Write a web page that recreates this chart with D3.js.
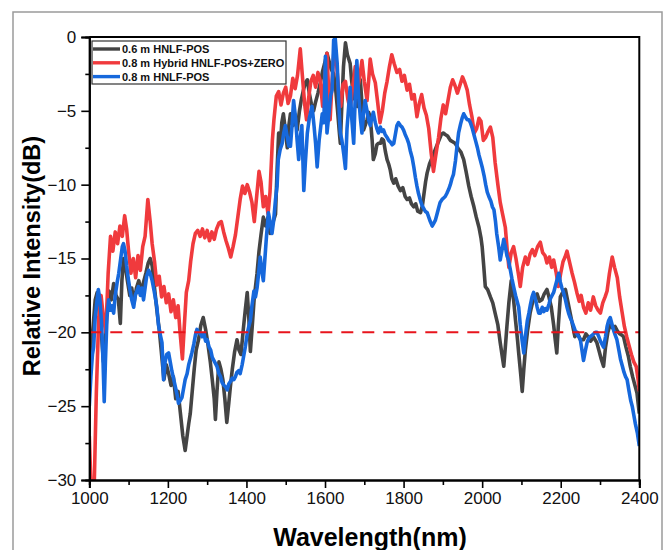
<!DOCTYPE html>
<html>
<head>
<meta charset="utf-8">
<script src="https://cdn.jsdelivr.net/npm/d3@7"></script>
<style>
  body { margin: 0; background: #fff; }
  svg { display: block; font-family: "Liberation Sans", Arial, sans-serif; }
</style>
</head>
<body>
<div id="chart"></div>
<script>
// series names (legend order)
const seriesNames = ["0.6 m HNLF-POS", "0.8 m Hybrid HNLF-POS+ZERO", "0.8 m HNLF-POS"];

// [wavelength nm, relative intensity dB]
const black06 = [[1000,-24],[1005,-21],[1010,-19.5],[1015,-17.8],[1020,-17.3],[1025,-18.5],[1030,-19.8],[1036,-22],[1040,-21],[1045,-18.5],[1050,-17.2],[1056,-17.8],[1062,-16.7],[1068,-17.5],[1074,-17.8],[1079,-19.4],[1083,-16.5],[1087,-15],[1092,-15.6],[1097,-16.5],[1103,-17.5],[1108,-17],[1114,-18],[1120,-17],[1126,-16.5],[1132,-17.3],[1138,-16.6],[1144,-16],[1150,-15.3],[1155,-15],[1160,-15.5],[1166,-17],[1172,-18.5],[1178,-19.8],[1184,-21.5],[1190,-23.2],[1196,-22.2],[1202,-22.8],[1208,-23.6],[1214,-23],[1220,-24.5],[1226,-24],[1232,-25.5],[1238,-27],[1244,-28],[1248,-27.2],[1253,-26.2],[1257,-25.5],[1262,-24],[1267,-22.5],[1272,-21.2],[1278,-20.5],[1284,-19.5],[1290,-19],[1296,-19.8],[1302,-20.8],[1308,-22],[1313,-23.2],[1318,-24.5],[1321,-25.9],[1325,-24],[1330,-22],[1335,-22.5],[1340,-23.2],[1345,-24.5],[1350,-26.1],[1355,-24.8],[1359,-23.7],[1364,-22.5],[1370,-21.3],[1376,-20.5],[1381,-21.2],[1386,-21.5],[1392,-19.8],[1397,-18.5],[1402,-17.3],[1406,-19],[1410,-21.3],[1415,-19.5],[1420,-17.6],[1427,-16],[1432,-14.5],[1437,-13.4],[1443,-12.2],[1449,-12.8],[1455,-12.2],[1460,-13.3],[1468,-12.5],[1474,-12],[1478,-9],[1482,-6.5],[1486,-7.5],[1490,-5.8],[1494,-5.2],[1499,-6.3],[1504,-7.5],[1508,-6],[1512,-5.2],[1518,-6],[1523,-5.2],[1529,-6.3],[1535,-5],[1540,-4.2],[1545,-3.6],[1550,-3.1],[1555,-2.9],[1560,-3.8],[1565,-4.5],[1571,-5],[1576,-4.4],[1582,-3.8],[1588,-3.1],[1594,-2.3],[1599,-1.8],[1605,-1.1],[1610,-1.6],[1616,-2.2],[1622,-2.5],[1627,-3.5],[1632,-5],[1636,-6.3],[1639,-7.2],[1643,-4.5],[1647,-2],[1652,-0.4],[1657,-1.2],[1664,-1.8],[1668,-3],[1673,-4.1],[1678,-4.3],[1682,-4.7],[1686,-3.5],[1690,-2.9],[1694,-4.5],[1698,-6.3],[1702,-6],[1707,-5.6],[1711,-5.1],[1715,-5.4],[1720,-7],[1723,-8.3],[1728,-7.9],[1732,-7.3],[1736,-7.2],[1741,-7.2],[1745,-6.9],[1749,-7],[1754,-7.8],[1758,-8.3],[1762,-8.6],[1766,-9],[1770,-9.6],[1775,-9.9],[1780,-9.6],[1786,-10.1],[1792,-10.4],[1798,-10.2],[1804,-10.8],[1809,-11],[1815,-10.9],[1820,-11.3],[1826,-11.5],[1831,-11.3],[1836,-11.8],[1843,-11.9],[1848,-11.4],[1852,-10.6],[1856,-9.8],[1860,-9.2],[1866,-8.6],[1872,-8.2],[1878,-7.8],[1884,-7.4],[1890,-7],[1896,-6.6],[1901,-6.5],[1906,-6.6],[1912,-6.7],[1919,-7],[1925,-7.1],[1931,-7.2],[1936,-7.4],[1940,-7.6],[1946,-7.8],[1953,-8.3],[1959,-9.1],[1966,-10.1],[1972,-10.8],[1979,-11.5],[1985,-12.2],[1992,-12.9],[1997,-13.6],[2000,-14.2],[2004,-15.5],[2008,-16.9],[2014,-17.1],[2021,-17.6],[2027,-18],[2033,-18.7],[2040,-19.5],[2046,-20.7],[2051,-21.6],[2055,-22.3],[2059,-21],[2063,-19.6],[2068,-18],[2074,-16.5],[2080,-17.8],[2085,-19.2],[2090,-20.5],[2093,-21.4],[2098,-22.8],[2102,-24],[2106,-22.5],[2110,-21.2],[2116,-19.8],[2122,-18.7],[2128,-18],[2134,-17.6],[2140,-17.4],[2146,-17.9],[2152,-17.8],[2158,-17.4],[2165,-17.1],[2170,-17.6],[2176,-18.3],[2182,-19.5],[2186,-20.5],[2190,-21.4],[2194,-19.5],[2199,-17.6],[2205,-17.3],[2212,-17.1],[2218,-17.9],[2224,-18.7],[2230,-19.5],[2236,-20.3],[2242,-20],[2250,-20.5],[2258,-20.5],[2264,-20.1],[2270,-20.3],[2276,-20.6],[2283,-20.3],[2292,-20.7],[2298,-21.3],[2303,-21.8],[2309,-22.3],[2314,-21],[2320,-20],[2326,-19.4],[2332,-19.7],[2338,-19.6],[2344,-19.9],[2350,-20.1],[2356,-20.2],[2360,-20.3],[2366,-21],[2372,-21.6],[2377,-22.3],[2383,-23],[2389,-23.6],[2394,-24.1],[2400,-25.5]];

const redHybrid = [[1000,-27],[1005,-31],[1012,-31],[1018,-24],[1024,-19],[1030,-17.5],[1036,-19],[1042,-20],[1048,-16],[1054,-13.5],[1060,-14.5],[1066,-13.2],[1072,-14],[1078,-12.8],[1084,-13.5],[1090,-12.1],[1095,-13],[1100,-14.5],[1106,-16],[1112,-15],[1118,-16.3],[1124,-14.8],[1130,-15.8],[1136,-14.2],[1142,-13.5],[1149,-11],[1155,-12.5],[1160,-14],[1166,-15.2],[1172,-16.8],[1178,-16.2],[1184,-17.6],[1190,-16.9],[1196,-18],[1202,-17.4],[1208,-18.6],[1214,-17.8],[1220,-19],[1226,-18.2],[1231,-20],[1237,-21.8],[1242,-19.5],[1247,-17.3],[1253,-16.5],[1258,-15.2],[1264,-14],[1270,-13.3],[1276,-13.1],[1282,-13.5],[1288,-13],[1294,-13.6],[1300,-13.1],[1306,-13.8],[1312,-13.2],[1318,-13.7],[1324,-13],[1330,-12.6],[1336,-12.5],[1342,-13.2],[1348,-13.8],[1354,-14.3],[1360,-14.9],[1366,-14.2],[1372,-13.4],[1378,-12.2],[1384,-11],[1390,-10.1],[1396,-10.6],[1402,-10],[1408,-10.5],[1414,-11.2],[1420,-12.5],[1426,-10.8],[1432,-9.1],[1437,-9.8],[1443,-11.5],[1449,-10.8],[1455,-12],[1460,-10.5],[1466,-7],[1470,-5.6],[1476,-4],[1482,-3.7],[1488,-4.6],[1494,-3.8],[1500,-3.4],[1506,-4.5],[1512,-4],[1518,-2.8],[1524,-3.5],[1530,-2.6],[1537,-0.8],[1542,-2.5],[1548,-4.5],[1553,-5.6],[1558,-4.2],[1564,-3],[1570,-2.6],[1576,-3.4],[1582,-2.4],[1588,-3],[1594,-4.7],[1600,-2.5],[1605,-1.1],[1609,-3.5],[1613,-5.6],[1618,-3],[1624,-0.4],[1630,-2],[1635,-3.8],[1640,-4.7],[1646,-3.2],[1652,-3],[1658,-4.2],[1664,-4.9],[1670,-3.5],[1677,-2],[1682,-3.6],[1688,-2.8],[1694,-1.6],[1700,-3],[1707,-4.3],[1711,-3],[1715,-1.5],[1721,-2.5],[1728,-3.1],[1733,-4.2],[1740,-5.8],[1746,-5],[1752,-3.8],[1758,-3],[1764,-2],[1770,-1.2],[1776,-1.8],[1783,-2.4],[1790,-2.2],[1796,-3],[1802,-2.6],[1809,-3.6],[1815,-3.2],[1821,-4.2],[1827,-3.9],[1834,-5.4],[1840,-4.5],[1846,-3.9],[1852,-4.8],[1858,-5.3],[1864,-6.2],[1870,-7.8],[1876,-9.1],[1882,-8],[1889,-6.8],[1895,-5.5],[1901,-4.6],[1907,-5.2],[1913,-4.3],[1919,-3.4],[1925,-2.9],[1931,-3.3],[1937,-3.8],[1943,-3.3],[1950,-2.7],[1956,-3.1],[1962,-3.6],[1968,-4.6],[1974,-5.4],[1980,-6.5],[1986,-6.2],[1992,-5.5],[1997,-5.7],[2003,-7],[2009,-6.8],[2015,-6.4],[2021,-6.1],[2027,-6.8],[2033,-8.5],[2040,-10],[2046,-11.2],[2052,-12],[2059,-12.9],[2064,-14.5],[2068,-15.6],[2074,-14.6],[2080,-14.2],[2086,-15],[2092,-16],[2097,-16.9],[2103,-15.6],[2110,-14.9],[2116,-15.4],[2122,-14.7],[2128,-14.4],[2134,-14.8],[2141,-14.2],[2148,-13.9],[2154,-14.6],[2160,-14.8],[2165,-15.3],[2171,-14.9],[2177,-15.6],[2182,-15.1],[2188,-15.9],[2194,-16.9],[2200,-16],[2206,-15.2],[2211,-14.9],[2216,-14.5],[2222,-15.2],[2229,-16],[2235,-16.6],[2241,-17.3],[2247,-17.9],[2252,-17.5],[2258,-18.3],[2264,-18.7],[2270,-18],[2276,-18.5],[2283,-17.6],[2289,-18.2],[2295,-18.5],[2301,-18.7],[2307,-18],[2313,-17.6],[2318,-17.2],[2324,-16],[2331,-14.9],[2337,-15.6],[2344,-16.3],[2350,-17.6],[2356,-18.6],[2362,-19.6],[2368,-20.3],[2374,-20.9],[2380,-21.5],[2386,-22],[2392,-22.3],[2397,-23.2],[2400,-24]];

const blue08 = [[1000,-25],[1004,-23],[1008,-21.5],[1011,-21],[1015,-19],[1019,-18],[1023,-17.1],[1027,-17.8],[1031,-19.2],[1035,-22],[1038,-24.7],[1041,-22],[1045,-19],[1049,-17.8],[1054,-18.5],[1058,-18.2],[1062,-18.7],[1066,-17.5],[1071,-16.6],[1075,-16],[1080,-15],[1084,-14.2],[1087,-14],[1091,-14.5],[1095,-15.5],[1100,-16.5],[1104,-17.2],[1108,-17.8],[1113,-18.3],[1117,-17.5],[1121,-17.2],[1125,-16.9],[1130,-17.5],[1134,-17],[1138,-17.8],[1142,-17],[1146,-16.2],[1151,-15.8],[1155,-16],[1160,-16.5],[1165,-17.2],[1169,-17.8],[1172,-18.3],[1176,-19.5],[1181,-20.2],[1185,-20.7],[1189,-23.2],[1193,-22],[1197,-21.5],[1202,-21.4],[1206,-22],[1210,-22.6],[1215,-23.2],[1220,-23.8],[1224,-24.3],[1227,-24.8],[1232,-24.6],[1236,-24.4],[1240,-23.8],[1244,-23.2],[1249,-22.8],[1253,-22.2],[1257,-21.8],[1261,-21.4],[1266,-20.8],[1270,-20.2],[1274,-19.8],[1278,-20],[1283,-20.1],[1287,-20.3],[1292,-20.1],[1296,-20.6],[1300,-20.5],[1305,-21],[1309,-21.2],[1313,-21.7],[1317,-21.9],[1321,-22.1],[1325,-22.3],[1330,-22.8],[1334,-23],[1338,-23.4],[1343,-23.6],[1347,-23.7],[1351,-23.9],[1355,-23.5],[1360,-23.3],[1364,-23.1],[1368,-23.2],[1372,-23],[1376,-22.7],[1380,-22.6],[1384,-22.8],[1389,-22.2],[1393,-21.6],[1397,-21],[1402,-20.1],[1406,-19.6],[1410,-19.2],[1414,-18.2],[1419,-17.2],[1423,-17.6],[1427,-17],[1431,-16],[1435,-14.9],[1439,-15.8],[1443,-16.5],[1447,-15],[1451,-13.5],[1456,-11.9],[1460,-12.5],[1465,-13.3],[1469,-12.5],[1474,-11],[1478,-10.1],[1481,-8.3],[1486,-7.6],[1491,-7.2],[1495,-6.5],[1499,-6],[1504,-6.8],[1508,-7.4],[1512,-7.4],[1516,-6],[1520,-4.3],[1525,-5.5],[1529,-7],[1533,-8.3],[1537,-6.8],[1541,-6],[1546,-10.4],[1550,-8.5],[1555,-6.5],[1560,-5.5],[1567,-4.7],[1572,-6],[1576,-7.2],[1580,-8.8],[1585,-7],[1589,-6.1],[1593,-5.2],[1597,-5.8],[1601,-1.3],[1605,-6.5],[1610,-5.2],[1614,-4],[1618,-3.6],[1622,-0.2],[1626,-0.1],[1631,-1.8],[1635,-4.5],[1639,-6.5],[1643,-7],[1648,-8],[1652,-8.9],[1656,-6.2],[1660,-4.8],[1664,-3.4],[1668,-5.5],[1673,-7.2],[1677,-4],[1681,-1.6],[1685,-3.8],[1690,-5.5],[1694,-6.5],[1698,-5.2],[1702,-4.3],[1707,-5],[1711,-5.6],[1715,-6],[1719,-5.5],[1723,-5.1],[1728,-5.8],[1732,-6.2],[1736,-6.5],[1741,-6.1],[1745,-6.4],[1749,-6.3],[1753,-6.6],[1758,-6.8],[1762,-7],[1766,-7.1],[1771,-7.3],[1775,-7.2],[1779,-6.6],[1783,-6],[1787,-5.8],[1792,-6],[1796,-6.1],[1800,-6.3],[1804,-6.6],[1809,-6.9],[1813,-7.2],[1817,-7.7],[1822,-8.2],[1826,-8.8],[1830,-9.5],[1834,-10.1],[1838,-10.6],[1843,-11.1],[1847,-11.4],[1851,-11.6],[1855,-11.8],[1860,-11.9],[1864,-12.2],[1868,-12.5],[1873,-12.8],[1877,-12.6],[1881,-12.4],[1885,-12],[1889,-11.6],[1893,-11.2],[1898,-11],[1902,-10.9],[1906,-10.8],[1910,-10.6],[1915,-10.3],[1919,-10],[1923,-9.6],[1927,-9.3],[1932,-8.4],[1936,-7.4],[1940,-6.5],[1945,-5.9],[1949,-5.5],[1953,-5.2],[1957,-5.4],[1962,-5.6],[1966,-5.6],[1970,-5.8],[1975,-6.2],[1979,-6.6],[1983,-7],[1988,-7.5],[1992,-8],[1996,-8.4],[2000,-8.8],[2005,-9.4],[2009,-10],[2013,-10.5],[2017,-10.8],[2022,-11.1],[2026,-11.5],[2030,-11.7],[2034,-12.5],[2037,-13.3],[2042,-14.2],[2046,-15.1],[2050,-14.5],[2055,-13.7],[2059,-14.2],[2063,-14.8],[2067,-15.1],[2072,-15.8],[2076,-16.4],[2080,-16.9],[2085,-17.5],[2089,-17.9],[2093,-18.3],[2097,-19.5],[2102,-20.6],[2106,-21.4],[2110,-20.3],[2115,-19.2],[2119,-18.7],[2123,-18.1],[2127,-17.6],[2131,-17.3],[2136,-17.8],[2140,-18.3],[2144,-18.7],[2148,-18.7],[2153,-18.3],[2157,-18.6],[2161,-18.4],[2165,-18.5],[2170,-18.1],[2174,-17.7],[2178,-17.5],[2182,-17.3],[2187,-16.8],[2191,-16.4],[2195,-16],[2199,-16.6],[2203,-17],[2207,-17.3],[2212,-17.8],[2216,-18.3],[2220,-18.7],[2224,-19],[2229,-19.3],[2233,-19.6],[2237,-19.9],[2241,-20.1],[2246,-20.3],[2250,-20.5],[2254,-21.2],[2258,-21.9],[2263,-21.2],[2267,-20.7],[2271,-20.4],[2275,-20.3],[2280,-20.2],[2284,-20.1],[2288,-20],[2292,-20],[2297,-20.3],[2301,-20.6],[2305,-20.8],[2309,-21],[2314,-20.3],[2318,-19.6],[2322,-19.2],[2326,-19],[2331,-19.5],[2335,-19.9],[2339,-20.2],[2343,-20.5],[2348,-21.2],[2352,-21.8],[2357,-22.3],[2361,-22.7],[2365,-23],[2369,-23.2],[2374,-24],[2378,-24.6],[2382,-25],[2386,-25.6],[2390,-26.2],[2395,-26.8],[2400,-27.7]];

const refLevel = -20;
const xTicks = [1000, 1200, 1400, 1600, 1800, 2000, 2200, 2400];
const xMinor = [1100, 1300, 1500, 1700, 1900, 2100, 2300];
const yTicks = [0, -5, -10, -15, -20, -25, -30];
const yMinor = [-2.5, -7.5, -12.5, -17.5, -22.5, -27.5];

const colors = ["#444444", "#f03a3d", "#1668dc"];
const allSeries = [black06, redHybrid, blue08];

const W = 671, H = 550;
const plotL = 89.3, plotR = 639.3, plotT = 37, plotB = 480;

const svg = d3.select("#chart")
  .append("svg")
  .attr("width", W)
  .attr("height", H);

// outer grey frame
svg.append("rect")
  .attr("x", 13).attr("y", 12)
  .attr("width", 649).attr("height", 560)
  .attr("fill", "none")
  .attr("stroke", "#9a9a9a")
  .attr("stroke-width", 1.5);

const xScale = d3.scaleLinear().domain([1000, 2400]).range([plotL, plotR]);
const yScale = d3.scaleLinear().domain([-30, 0]).range([plotB, plotT]);

svg.append("clipPath").attr("id", "plotclip")
  .append("rect")
  .attr("x", plotL).attr("y", plotT)
  .attr("width", plotR - plotL).attr("height", plotB - plotT);

const line = d3.line()
  .x(d => xScale(d[0]))
  .y(d => yScale(d[1]));

const curves = svg.append("g").attr("clip-path", "url(#plotclip)");

curves.selectAll("path")
  .data(allSeries)
  .enter()
  .append("path")
  .attr("d", d => line(d))
  .attr("fill", "none")
  .attr("stroke", (d, i) => colors[i])
  .attr("stroke-width", 3.6)
  .attr("stroke-linejoin", "round");

// -20 dB reference
svg.append("line")
  .attr("x1", xScale(1000)).attr("x2", xScale(2400))
  .attr("y1", yScale(refLevel)).attr("y2", yScale(refLevel))
  .attr("stroke", "#e8141c")
  .attr("stroke-width", 2)
  .attr("stroke-dasharray", "12,9");

// frame top/right
svg.append("path")
  .attr("d", `M${plotL},${plotT}H${plotR}V${plotB}`)
  .attr("fill", "none")
  .attr("stroke", "#000")
  .attr("stroke-width", 2);

const xAxis = d3.axisBottom(xScale).tickValues(xTicks).tickSize(8).tickPadding(4).tickFormat(d3.format("d"));
const xAxisMinor = d3.axisBottom(xScale).tickValues(xMinor).tickSize(5).tickFormat("");
const yAxis = d3.axisLeft(yScale).tickValues(yTicks).tickSize(8).tickPadding(5);
const yAxisMinor = d3.axisLeft(yScale).tickValues(yMinor).tickSize(4).tickFormat("");

svg.append("g").attr("transform", `translate(0, ${plotB})`).call(xAxis);
svg.append("g").attr("transform", `translate(0, ${plotB})`).call(xAxisMinor);
svg.append("g").attr("transform", `translate(${plotL}, 0)`).call(yAxis);
svg.append("g").attr("transform", `translate(${plotL}, 0)`).call(yAxisMinor);

svg.selectAll(".domain").attr("stroke", "#000").attr("stroke-width", 2);
svg.selectAll(".tick line").attr("stroke", "#000").attr("stroke-width", 1.6);
svg.selectAll(".tick text")
  .attr("font-family", "Liberation Sans, Arial, sans-serif")
  .attr("font-size", 17)
  .attr("fill", "#111");

svg.append("text")
  .attr("x", 370)
  .attr("y", 546)
  .attr("text-anchor", "middle")
  .attr("font-size", 25)
  .attr("font-weight", "bold")
  .text("Wavelength(nm)");

svg.append("text")
  .attr("transform", "rotate(-90)")
  .attr("x", -256)
  .attr("y", 40)
  .attr("text-anchor", "middle")
  .attr("font-size", 23.5)
  .attr("font-weight", "bold")
  .text("Relative Intensity(dB)");

// legend
const legend = svg.append("g");
legend.append("rect")
  .attr("x", 92).attr("y", 41)
  .attr("width", 194).attr("height", 43)
  .attr("fill", "#fff")
  .attr("stroke", "#333")
  .attr("stroke-width", 1.2);

legend.selectAll(".lg-line")
  .data(seriesNames)
  .enter()
  .append("line")
  .attr("x1", 93).attr("x2", 120)
  .attr("y1", (d, i) => 49 + i * 13.8)
  .attr("y2", (d, i) => 49 + i * 13.8)
  .attr("stroke", (d, i) => colors[i])
  .attr("stroke-width", 3.4);

legend.selectAll(".lg-text")
  .data(seriesNames)
  .enter()
  .append("text")
  .attr("x", 122)
  .attr("y", (d, i) => 49 + i * 13.8)
  .attr("dy", "0.36em")
  .attr("font-size", 11)
  .attr("font-weight", "bold")
  .attr("fill", "#111")
  .text(d => d);
</script>
</body>
</html>
